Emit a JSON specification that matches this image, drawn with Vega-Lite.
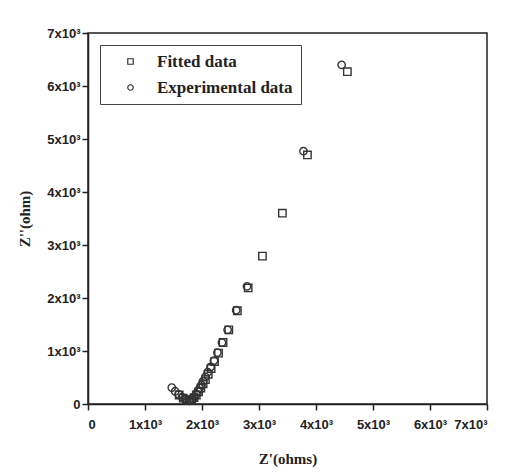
{
  "$schema": "https://vega.github.io/schema/vega-lite/v6.json",
  "autosize": {"type": "none"},
  "width": 399,
  "height": 371,
  "padding": {"left": 88, "top": 33, "right": 24, "bottom": 70},
  "background": "white",
  "config": {
    "view": {"stroke": "#222", "strokeWidth": 1.5},
    "axis": {
      "grid": false,
      "domainColor": "#222",
      "domainWidth": 1.5,
      "tickColor": "#222",
      "tickWidth": 1.5,
      "tickSize": 6,
      "labelFont": "Liberation Sans",
      "labelFontWeight": "bold",
      "labelFontSize": 13,
      "labelColor": "#222",
      "titleFont": "Liberation Serif",
      "titleFontWeight": "bold",
      "titleFontSize": 15,
      "titleColor": "#222"
    }
  },
  "data": {
    "values": [
      {"zr": 1470, "zi": 310, "series": "Experimental data"},
      {"zr": 1530, "zi": 240, "series": "Experimental data"},
      {"zr": 1590, "zi": 180, "series": "Experimental data"},
      {"zr": 1650, "zi": 130, "series": "Experimental data"},
      {"zr": 1700, "zi": 90, "series": "Experimental data"},
      {"zr": 1740, "zi": 70, "series": "Experimental data"},
      {"zr": 1780, "zi": 60, "series": "Experimental data"},
      {"zr": 1810, "zi": 70, "series": "Experimental data"},
      {"zr": 1840, "zi": 100, "series": "Experimental data"},
      {"zr": 1870, "zi": 140, "series": "Experimental data"},
      {"zr": 1900, "zi": 190, "series": "Experimental data"},
      {"zr": 1930, "zi": 240, "series": "Experimental data"},
      {"zr": 1960, "zi": 300, "series": "Experimental data"},
      {"zr": 1990, "zi": 360, "series": "Experimental data"},
      {"zr": 2020, "zi": 430, "series": "Experimental data"},
      {"zr": 2060, "zi": 510, "series": "Experimental data"},
      {"zr": 2100, "zi": 600, "series": "Experimental data"},
      {"zr": 2150, "zi": 700, "series": "Experimental data"},
      {"zr": 2210, "zi": 820, "series": "Experimental data"},
      {"zr": 2270, "zi": 970, "series": "Experimental data"},
      {"zr": 2350, "zi": 1160, "series": "Experimental data"},
      {"zr": 2450, "zi": 1400, "series": "Experimental data"},
      {"zr": 2600, "zi": 1770, "series": "Experimental data"},
      {"zr": 2790, "zi": 2220, "series": "Experimental data"},
      {"zr": 3780, "zi": 4770, "series": "Experimental data"},
      {"zr": 4450, "zi": 6400, "series": "Experimental data"},
      {"zr": 1600, "zi": 170, "series": "Fitted data"},
      {"zr": 1670, "zi": 110, "series": "Fitted data"},
      {"zr": 1730, "zi": 80, "series": "Fitted data"},
      {"zr": 1780, "zi": 70, "series": "Fitted data"},
      {"zr": 1820, "zi": 80, "series": "Fitted data"},
      {"zr": 1860, "zi": 120, "series": "Fitted data"},
      {"zr": 1900, "zi": 170, "series": "Fitted data"},
      {"zr": 1940, "zi": 230, "series": "Fitted data"},
      {"zr": 1980, "zi": 300, "series": "Fitted data"},
      {"zr": 2020, "zi": 380, "series": "Fitted data"},
      {"zr": 2060, "zi": 460, "series": "Fitted data"},
      {"zr": 2110, "zi": 560, "series": "Fitted data"},
      {"zr": 2160, "zi": 670, "series": "Fitted data"},
      {"zr": 2220, "zi": 800, "series": "Fitted data"},
      {"zr": 2290, "zi": 960, "series": "Fitted data"},
      {"zr": 2370, "zi": 1160, "series": "Fitted data"},
      {"zr": 2470, "zi": 1400, "series": "Fitted data"},
      {"zr": 2620, "zi": 1760, "series": "Fitted data"},
      {"zr": 2810, "zi": 2190, "series": "Fitted data"},
      {"zr": 3060, "zi": 2790, "series": "Fitted data"},
      {"zr": 3410, "zi": 3600, "series": "Fitted data"},
      {"zr": 3850, "zi": 4700, "series": "Fitted data"},
      {"zr": 4550, "zi": 6270, "series": "Fitted data"}
    ]
  },
  "mark": {"type": "point", "filled": false, "strokeWidth": 1.4, "size": 55, "opacity": 1, "clip": false},
  "encoding": {
    "x": {
      "field": "zr", "type": "quantitative",
      "scale": {"domain": [0, 7000], "nice": false, "zero": true},
      "axis": {
        "values": [0, 1000, 2000, 3000, 4000, 5000, 6000, 7000],
        "labelExpr": "datum.value == 0 ? '0' : (datum.value / 1000) + 'x10³'",
        "labelPadding": 8,
        "title": "Z'(ohms)",
        "titlePadding": 20
      }
    },
    "y": {
      "field": "zi", "type": "quantitative",
      "scale": {"domain": [0, 7000], "nice": false, "zero": true},
      "axis": {
        "values": [0, 1000, 2000, 3000, 4000, 5000, 6000, 7000],
        "labelExpr": "datum.value == 0 ? '0' : (datum.value / 1000) + 'x10³'",
        "labelPadding": 2,
        "title": "Z''(ohm)",
        "titlePadding": 14
      }
    },
    "shape": {
      "field": "series", "type": "nominal",
      "scale": {"domain": ["Fitted data", "Experimental data"], "range": ["square", "circle"]},
      "legend": {
        "title": null,
        "orient": "none",
        "legendX": 12,
        "legendY": 12,
        "strokeColor": "#444",
        "fillColor": "white",
        "padding": 8,
        "symbolOffset": 14,
        "symbolSize": 30,
        "symbolStrokeColor": "#333",
        "symbolStrokeWidth": 1.2,
        "symbolType": "circle",
        "labelFont": "Liberation Serif",
        "labelFontWeight": "bold",
        "labelFontSize": 17,
        "labelColor": "#222",
        "labelOffset": 18,
        "rowPadding": 8,
        "labelLimit": 300
      }
    },
    "color": {"value": "#333"}
  }
}
